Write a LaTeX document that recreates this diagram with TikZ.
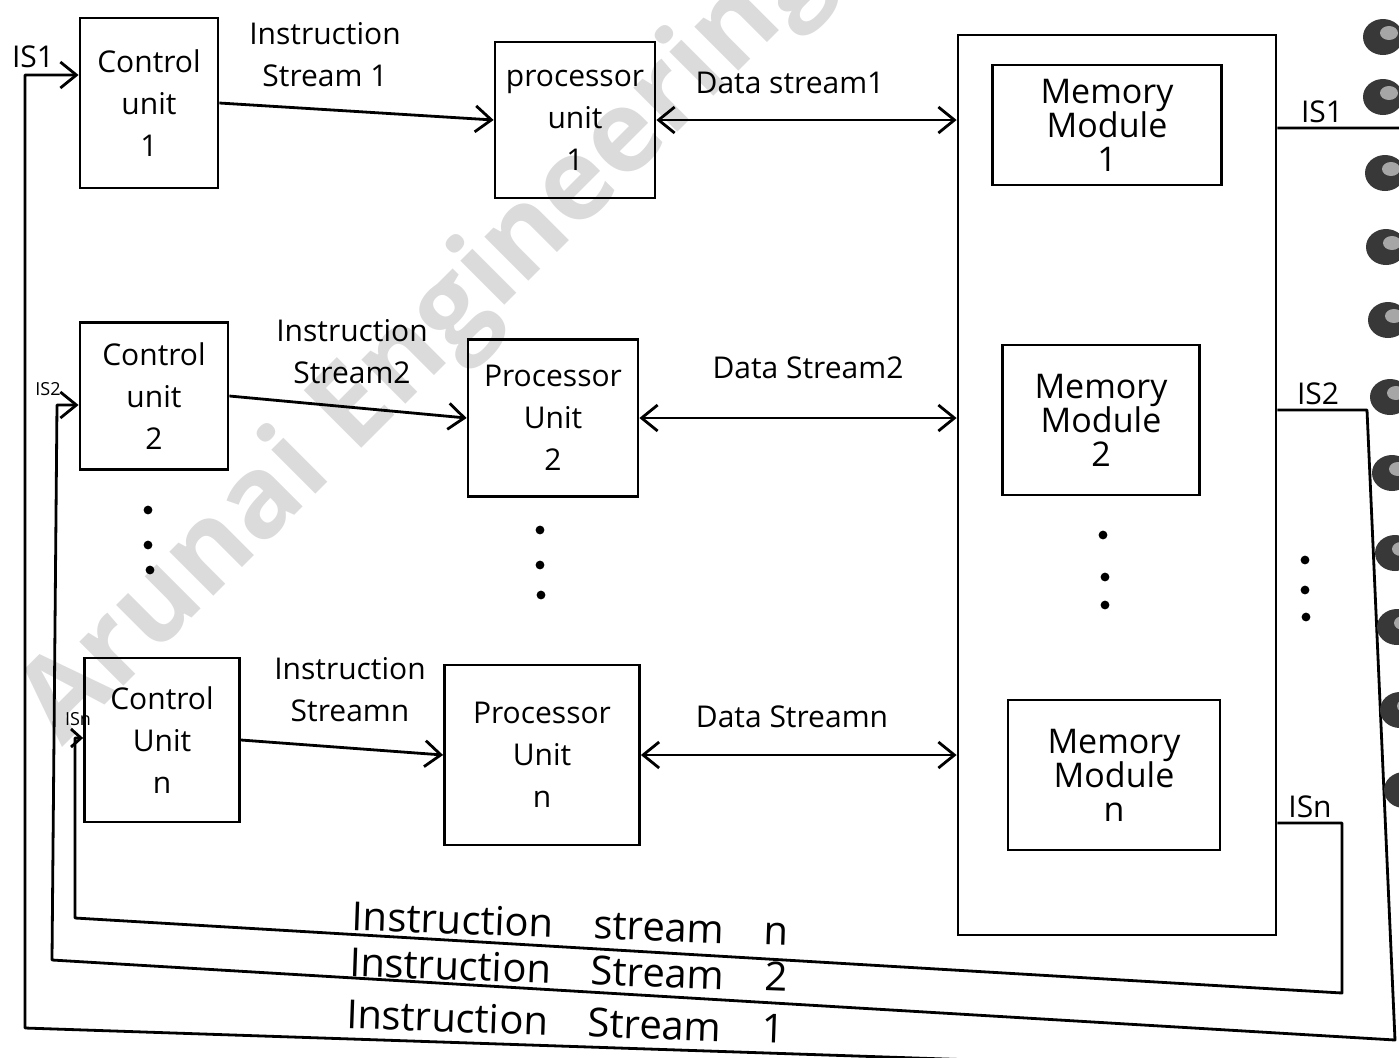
\documentclass[tikz,border=0pt]{standalone}
\usepackage{fontspec}
\setmainfont{Open Sans}
\usetikzlibrary{arrows.meta,positioning}

\newcommand{\handfont}{\fontsize{15}{21}\selectfont}
\newcommand{\modfont}{\fontsize{17}{17}\selectfont}
\newcommand{\tinyhand}{\fontsize{9}{9}\selectfont}

\begin{document}
\begin{tikzpicture}[x=0.5pt, y=-0.5pt, >={Straight Barb[length=8pt,width=13pt]},
  box/.style={draw, line width=1.4pt, align=center, font=\handfont, inner sep=0pt},
  modbox/.style={box, font=\modfont},
  link/.style={line width=1.4pt, line join=round},
  lbl/.style={font=\handfont, align=center, inner sep=1pt},
  bottomlbl/.style={font=\fontsize{20}{20}\selectfont, anchor=base, rotate=-2, inner sep=0pt}]
  \useasboundingbox (0,0) rectangle (1399,1057);
  \clip (0,0) rectangle (1399,1057);

  % watermark
  \node[rotate=45, anchor=base west, text=black!14, inner sep=0pt,
        font=\fontsize{57}{57}\selectfont\bfseries] (wm) at (62,748) {Arunai Engineering};

  % control units
  \node[box, minimum width=69pt, minimum height=85pt] (cu1) at (149,103) {Control\\unit\\1};
  \node[box, minimum width=74pt, minimum height=73.5pt] (cu2) at (154,396) {Control\\unit\\2};
  \node[box, minimum width=77.5pt, minimum height=82pt] (cun) at (162,740) {Control\\Unit\\n};

  % processor units
  \node[box, minimum width=80pt, minimum height=78pt] (pu1) at (575,120) {processor\\unit\\1};
  \node[box, minimum width=85pt, minimum height=78.5pt] (pu2) at (553,418) {Processor\\Unit\\2};
  \node[box, minimum width=97.5pt, minimum height=90pt] (pun) at (542,755) {Processor\\Unit\\n};

  % shared memory and its modules
  \node[draw, line width=1.4pt, minimum width=159pt, minimum height=450pt] (mem) at (1117,485) {};
  \node[modbox, minimum width=114.5pt, minimum height=60pt] (mm1) at (1107,125) {Memory\\Module\\1};
  \node[modbox, minimum width=98.5pt, minimum height=75pt] (mm2) at (1101,420) {Memory\\Module\\2};
  \node[modbox, minimum width=106pt, minimum height=75pt] (mmn) at (1114,775) {Memory\\Module\\n};

  % instruction streams CU -> PU
  \draw[link,->] (cu1.east) -- (pu1.west);
  \draw[link,->] (cu2.east) -- (pu2.west);
  \draw[link,->] (cun.east) -- (pun.west);
  \node[lbl] (is1lbl) at (325,55) {Instruction\\Stream 1};
  \node[lbl] (is2lbl) at (352,352) {Instruction\\Stream2};
  \node[lbl] (isnlbl) at (350,690) {Instruction\\Streamn};

  % data streams PU <-> memory
  \draw[link,<->] (pu1.east) -- (mem.west |- pu1.east);
  \draw[link,<->] (pu2.east) -- (mem.west |- pu2.east);
  \draw[link,<->] (pun.east) -- (mem.west |- pun.east);
  \node[lbl] (ds1lbl) at (790,83) {Data stream1};
  \node[lbl] (ds2lbl) at (808,368) {Data Stream2};
  \node[lbl] (dsnlbl) at (792,717) {Data Streamn};

  % return paths back to the control units
  \coordinate (r1) at (1420,128);
  \coordinate (r2) at (1367,410);
  \coordinate (rn) at (1342,823);
  \draw[link,->] (mem.east |- r1) -- (r1) -- (1420,1075) -- (25,1028) -- (25,75) -- (cu1.west |- 0,75);
  \draw[link,->] (mem.east |- r2) -- (r2) -- (1395,1040) -- (52,960) -- (57,405) -- (cu2.west |- 0,405);
  \draw[link,-{Straight Barb[length=5pt,width=9pt]}] (mem.east |- rn) -- (rn) -- (1342,993) -- (75,918) -- (75,738) -- (cun.west |- 0,738);

  \node[lbl, anchor=south] (ir1) at (1322,125) {IS1};
  \node[lbl, anchor=south] (ir2) at (1318,407) {IS2};
  \node[lbl, anchor=south] (irn) at (1310,820) {ISn};
  \node[lbl, anchor=south] (il1) at (33,70) {IS1};
  \node[lbl, anchor=south, font=\tinyhand] (il2) at (48,398) {IS2};
  \node[lbl, anchor=south, font=\tinyhand] (iln) at (78,728) {ISn};

  \node[bottomlbl] (bn) at (570,938) {Instruction\quad stream\quad n};
  \node[bottomlbl] (b2) at (568,984) {Instruction\quad Stream\quad 2};
  \node[bottomlbl] (b1) at (565,1036) {Instruction\quad Stream\quad 1};

  % ellipsis dots
  \foreach \x/\y in {148/510,148/545,150/570, 540/530,540/565,541/595,
                     1103/535,1105/577,1105/605, 1305/560,1305/590,1306/617}
    \fill (\x,\y) circle (2.2pt);

  % binding rings on the right edge
  \foreach \x/\y in {1383/37,1383/97,1385/173,1386/247,1388/320,1390/397,
                     1392/473,1395/553,1397/627,1400/710,1404/790}
  {
    \fill[black!78] (\x,\y) ellipse (20 and 18);
    \fill[black!35] (\x+6,\y-4) ellipse (9 and 7);
  }
\end{tikzpicture}
\end{document}
